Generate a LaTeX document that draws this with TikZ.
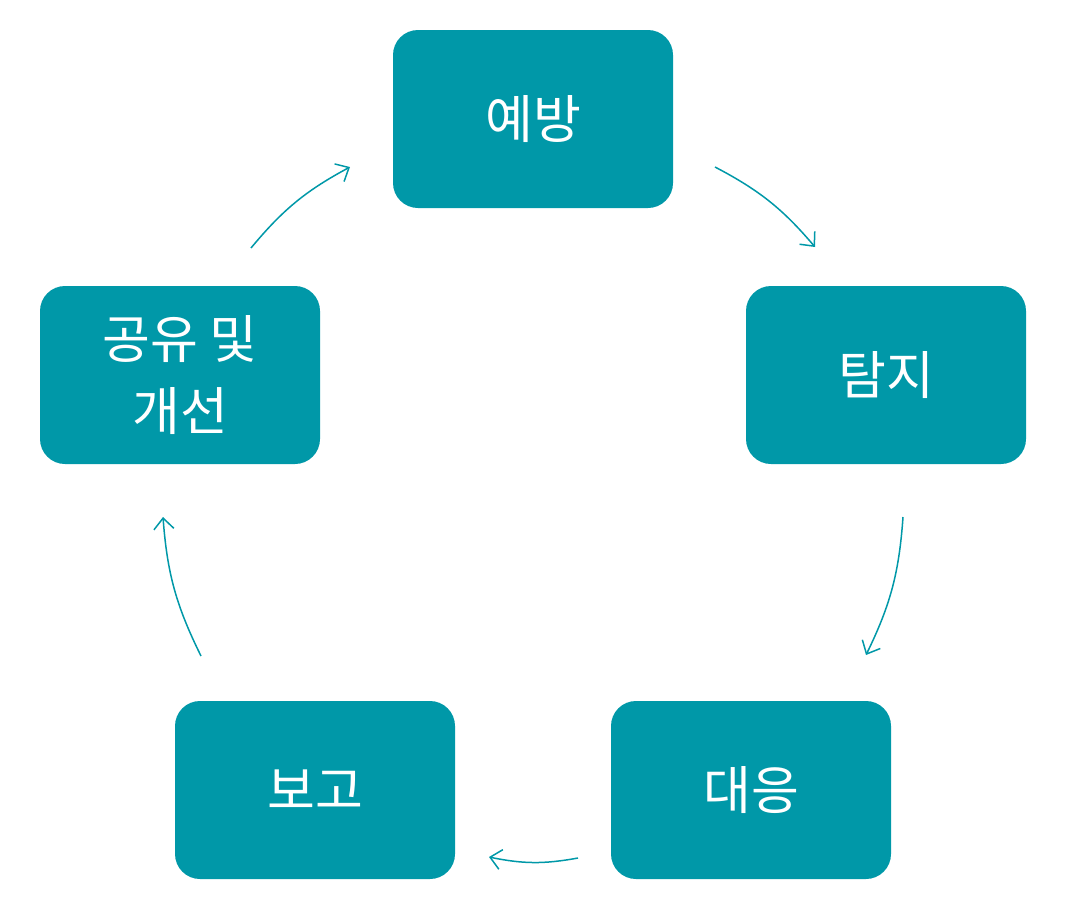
\documentclass[tikz,border=0pt]{standalone}
\usepackage{fontspec}
\setmainfont{Noto Sans CJK KR}
\usetikzlibrary{arrows.meta}
\definecolor{teal}{HTML}{0098A8}
\tikzset{
  stage/.style={fill=teal, text=white, rounded corners=25pt, minimum width=280pt,
    minimum height=178pt, align=center, font=\fontsize{52}{72}\selectfont},
  cyc/.style={draw=teal, line width=1.5pt, -{Straight Barb[length=11pt,width=20pt,line width=1.5pt]}}
}
\begin{document}
\begin{tikzpicture}[x=1pt,y=-1pt]
\useasboundingbox (0,0) rectangle (1085,913);
% stages
\node[stage] (prev) at (533,119) {예방};
\node[stage] (detect) at (886,375) {탐지};
\node[stage] (resp) at (751,790) {대응};
\node[stage] (report) at (315,790) {보고};
\node[stage] (share) at (180,375) {공유 및\\개선};
% arrow ends
\coordinate (a1) at (715,167); \coordinate (b1) at (815,247);
\coordinate (a2) at (903,517); \coordinate (b2) at (866,655);
\coordinate (a3) at (578,858); \coordinate (b3) at (489,857);
\coordinate (a4) at (201,656); \coordinate (b4) at (163,517);
\coordinate (a5) at (251,248); \coordinate (b5) at (350,167);
\foreach \i in {1,...,5} {
  \draw[cyc] (a\i) to[bend left=11] (b\i);
}
\end{tikzpicture}
\end{document}
